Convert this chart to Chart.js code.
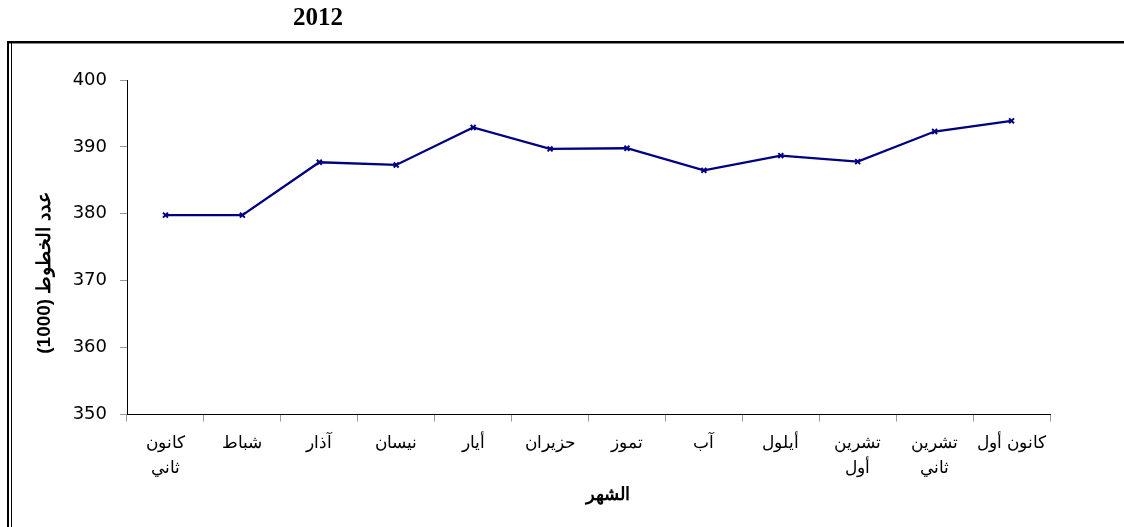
<!DOCTYPE html>
<html>
<head>
<meta charset="utf-8">
<script src="https://cdn.jsdelivr.net/npm/chart.js@4"></script>
<style>
  body { margin: 0; background: #fff; }
  #wrap { width: 1124px; height: 527px; position: relative; }
</style>
</head>
<body>
<div id="wrap"><canvas id="lineChart"></canvas></div>
<script>
const months = [
  ["كانون", "ثاني"], "شباط", "آذار", "نيسان", "أيار", "حزيران",
  "تموز", "آب", "أيلول", ["تشرين", "أول"], ["تشرين", "ثاني"], "كانون أول",
];
const lineCounts = [
  379.8, 379.8, 387.7, 387.3, 392.9, 389.7, 389.8, 386.5, 388.7, 387.8, 392.3, 393.9,
];
const yMin = 350;
const yMax = 400;
const yStep = 10;

const chartTitle = "2012";
const yTitle = "عدد الخطوط (1000)";
const xTitle = "الشهر";

// frame lines and the free-standing texts
const decorations = {
  id: "decorations",
  beforeDraw(chart) {
    const c = chart.ctx;
    c.save();
    c.fillStyle = "#fff";
    c.fillRect(0, 0, chart.width, chart.height);
    c.fillStyle = "#000";
    c.fillRect(7, 41, chart.width - 7, 2);
    c.fillStyle = "#888";
    c.fillRect(9, 43, chart.width - 9, 1);
    c.fillStyle = "#000";
    c.fillRect(7, 41, 2, chart.height - 41);
    c.fillRect(11, 43, 1, chart.height - 43);
    c.restore();
  },
  afterDraw(chart) {
    const c = chart.ctx;
    c.save();
    c.fillStyle = "#000";
    c.textAlign = "center";
    c.textBaseline = "middle";
    c.font = "bold 25px 'Liberation Serif', 'Times New Roman', serif";
    c.fillText(chartTitle, 318, 19);

    c.direction = "rtl";
    c.font = "bold 18px 'Liberation Sans', Arial, sans-serif";
    c.fillText(xTitle, 608, 495);

    c.font = "bold 19px 'Liberation Sans', Arial, sans-serif";
    c.translate(45, 273);
    c.rotate(-Math.PI / 2);
    c.fillText(yTitle, 0, 0);
    c.restore();
  },
};

const ctx = document.getElementById("lineChart").getContext("2d");

new Chart(ctx, {
  type: "line",
  data: {
    labels: months,
    datasets: [
      {
        data: lineCounts,
        borderColor: "#000080",
        borderWidth: 2.3,
        tension: 0,
        pointStyle: "crossRot",
        pointRadius: 3.5,
        pointBorderWidth: 2,
        pointBorderColor: "#000080",
        pointBackgroundColor: "#000080",
      },
    ],
  },
  options: {
    responsive: true,
    maintainAspectRatio: false,
    animation: false,
    layout: {
      padding: { top: 80, right: 74, bottom: 0, left: 0 },
    },
    plugins: {
      legend: { display: false },
      tooltip: { enabled: false },
    },
    scales: {
      x: {
        offset: true,
        afterFit(scale) {
          scale.height = 112.5;
        },
        grid: {
          offset: true,
          drawOnChartArea: false,
          drawTicks: true,
          tickLength: 7,
          color: "#999",
        },
        border: { color: "#000", width: 1 },
        ticks: {
          color: "#000",
          padding: 9,
          maxRotation: 0,
          autoSkip: false,
          font: { family: "'Liberation Sans', Arial, sans-serif", size: 17, lineHeight: 1.5 },
        },
      },
      y: {
        min: yMin,
        max: yMax,
        afterFit(scale) {
          scale.width = 127;
        },
        grid: {
          drawOnChartArea: false,
          drawTicks: true,
          tickLength: 7,
          color: "#999",
        },
        border: { color: "#000", width: 1 },
        ticks: {
          stepSize: yStep,
          color: "#000",
          padding: 13,
          font: { family: "'DejaVu Sans', Verdana, sans-serif", size: 18 },
        },
      },
    },
  },
  plugins: [decorations],
});
</script>
</body>
</html>
